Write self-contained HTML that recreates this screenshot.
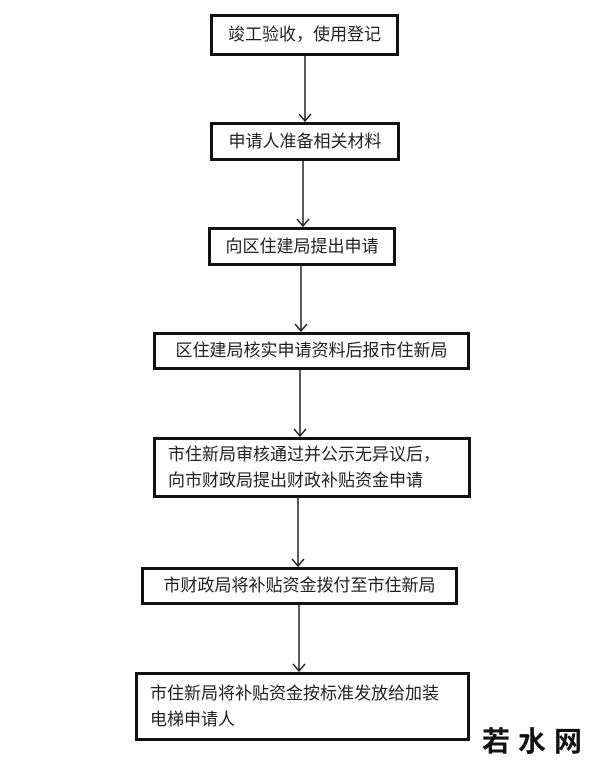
<!DOCTYPE html>
<html><head><meta charset="utf-8"><style>
body{margin:0;width:600px;height:759px;background:#fff;position:relative;overflow:hidden;font-family:"Liberation Sans","Noto Sans CJK SC",sans-serif;color:#222}
.b{position:absolute;border:3px solid #111;box-sizing:border-box;font-size:17px;display:flex;align-items:center;justify-content:center;line-height:26px;background:#fff}
.l{justify-content:flex-start;padding-left:12px}
</style></head><body>
<svg width="600" height="759" style="position:absolute;left:0;top:0">
<g stroke="#222" stroke-width="1.5" fill="none">
<line x1="305" y1="56" x2="305" y2="121"/><polyline points="299,114 305,121 311,114"/>
<line x1="303" y1="160" x2="303" y2="226"/><polyline points="297,219 303,226 309,219"/>
<line x1="301" y1="265" x2="301" y2="331"/><polyline points="295,324 301,331 307,324"/>
<line x1="300" y1="370" x2="300" y2="436"/><polyline points="294,429 300,436 306,429"/>
<line x1="298" y1="498" x2="298" y2="566"/><polyline points="292,559 298,566 304,559"/>
<line x1="299" y1="605" x2="299" y2="671"/><polyline points="293,664 299,671 305,664"/>
</g></svg>
<div class="b" style="left:210px;top:14px;width:189px;height:42px">竣工验收，使用登记</div>
<div class="b" style="left:210px;top:122px;width:190px;height:39px">申请人准备相关材料</div>
<div class="b" style="left:208px;top:227px;width:188px;height:39px">向区住建局提出申请</div>
<div class="b" style="left:153px;top:332px;width:317px;height:38px">区住建局核实申请资料后报市住新局</div>
<div class="b l" style="left:153px;top:437px;width:318px;height:61px">市住新局审核通过并公示无异议后，<br>向市财政局提出财政补贴资金申请</div>
<div class="b" style="left:141px;top:567px;width:317px;height:38px">市财政局将补贴资金拨付至市住新局</div>
<div class="b l" style="left:135px;top:672px;width:335px;height:69px">市住新局将补贴资金按标准发放给加装<br>电梯申请人</div>
<div style="position:absolute;left:482px;top:720px;font-size:28px;font-weight:bold;letter-spacing:8px;color:#111">若水网</div>
</body></html>
